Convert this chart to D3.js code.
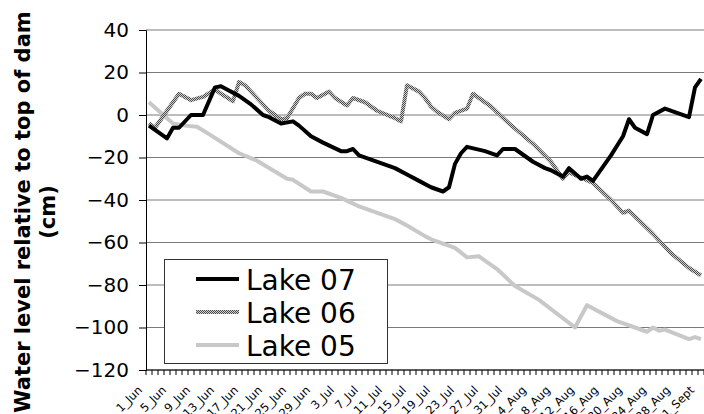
<!DOCTYPE html>
<html>
<head>
<meta charset="utf-8">
<script src="https://cdn.jsdelivr.net/npm/d3@7"></script>
<style>
body { margin: 0; background: #fff; }
svg { display: block; font-family: "DejaVu Sans", Verdana, sans-serif; }
</style>
</head>
<body>
<script>
// day offsets from 1 Jun (0 = 1_Jun ... 92 = 1_Sept)
const days = d3.range(93);
const tickLabels = ["1_Jun","5_Jun","9_Jun","13_Jun","17_Jun","21_Jun","25_Jun","29_Jun",
    "3_Jul","7_Jul","11_Jul","15_Jul","19_Jul","23_Jul","27_Jul","31_Jul",
    "4_Aug","8_Aug","12_Aug","16_Aug","20_Aug","24_Aug","28_Aug","1_Sept"];
const yTicks = [40, 20, 0, -20, -40, -60, -80, -100, -120];

// [day, level cm]
const lake07 = [[0,-5],[3,-11],[4,-6],[5,-6],[7,0],[9,0],[11,13],[12,13.5],[13,12],[15,9],[17,5],
    [19,0],[20,-1],[22,-4],[24,-3],[25,-5],[27,-10],[29,-13],[32,-17],[33,-17],[34,-16],[35,-19],
    [37,-21],[41,-25],[43,-28],[45,-31],[47,-34],[49,-36],[50,-34],[51,-23],[52,-18],[53,-15],
    [56,-17],[58,-19],[59,-16],[61,-16],[64,-22],[66,-25],[67,-26],[69,-29],[70,-25],[72,-30],
    [73,-29],[74,-31],[77,-19],[79,-10],[80,-2],[81,-6],[83,-9],[84,0],[86,3],[90,-1],[91,13],[92,17]];
const lake06 = [[0,-4],[1,-6],[3,2],[5,10],[7,7],[9,8.5],[11,12],[12,10],[14,6.5],[15,15.5],[16,14],
    [18,8],[20,2],[22,-2],[23,-1.5],[25,8],[26,10],[27,10],[28,8],[30,11],[31,8],[33,4.5],[34,8],
    [36,6],[38,2],[41,-1.5],[42,-3],[43,14],[45,11],[46,8],[47,4],[48,1.5],[50,-2],[51,1],[53,3],
    [54,10],[57,4],[60,-4],[64,-13.5],[67,-22],[69,-30],[70,-27],[74,-32],[77,-40],[79,-46],
    [80,-45],[84,-56],[87,-65],[90,-72],[92,-75.5]];
const lake05 = [[0,6],[4,-4],[6,-5],[8,-5.5],[10,-9],[15,-18],[18,-21.5],[23,-30],[24,-30.5],
    [27,-36],[29,-36],[32,-39],[35,-43],[37,-45],[41,-49],[43,-52],[46,-57],[47,-58.5],[51,-62.5],
    [53,-67],[55,-66.5],[58,-72.5],[61,-80.5],[65,-87],[71,-100],[73,-89.5],[78,-97],[83,-102],
    [84,-100],[85,-101.5],[86,-101],[90,-105.5],[91,-104.5],[92,-105.5]];

const series = [
    { name: "Lake 07", data: lake07, stroke: "#000" },
    { name: "Lake 06", data: lake06, stroke: "url(#chk)" },
    { name: "Lake 05", data: lake05, stroke: "#c8c8c8" }
];

const width = 704;
const height = 414;
const plotLeft = 146, plotTop = 30, plotBottom = 370;

const svg = d3.select("body").append("svg")
    .attr("width", width)
    .attr("height", height);

// checkered texture for Lake 06
const pat = svg.append("defs").append("pattern")
    .attr("id", "chk").attr("width", 2).attr("height", 2)
    .attr("patternUnits", "userSpaceOnUse");
pat.append("rect").attr("width", 2).attr("height", 2).attr("fill", "#d0d0d0");
pat.append("rect").attr("width", 1).attr("height", 1).attr("fill", "#4a4a4a");
pat.append("rect").attr("x", 1).attr("y", 1).attr("width", 1).attr("height", 1).attr("fill", "#4a4a4a");

const x = d3.scaleBand().domain(days).range([plotLeft, width]).padding(0);
const y = d3.scaleLinear().domain([-120, 40]).range([plotBottom, plotTop]);
const cx = d => x(d) + x.bandwidth() / 2;

// gridlines
svg.append("g").selectAll("line").data(yTicks).join("line")
    .attr("x1", plotLeft).attr("x2", width)
    .attr("y1", d => y(d)).attr("y2", d => y(d))
    .attr("stroke", "#7a7a7a").attr("stroke-width", 1);

// y axis
const yAxis = d3.axisLeft(y).tickValues(yTicks).tickSize(7).tickPadding(10);
const yG = svg.append("g").attr("transform", `translate(${plotLeft},0)`).call(yAxis);
yG.select(".domain").attr("stroke", "#000");
yG.selectAll(".tick line").attr("stroke", "#000");
yG.selectAll(".tick text").attr("font-size", 20).attr("fill", "#000")
    .attr("font-family", "DejaVu Sans, Verdana, sans-serif");

// x axis: tick at every category boundary
const xG = svg.append("g");
xG.append("line").attr("x1", plotLeft).attr("x2", width).attr("y1", plotBottom).attr("y2", plotBottom)
    .attr("stroke", "#000");
xG.selectAll(".tk").data(days.concat([93])).join("line")
    .attr("class", "tk")
    .attr("x1", d => d < 93 ? x(d) : plotLeft + 93 * x.bandwidth())
    .attr("x2", d => d < 93 ? x(d) : plotLeft + 93 * x.bandwidth())
    .attr("y1", plotBottom).attr("y2", plotBottom + 5)
    .attr("stroke", "#000");
xG.selectAll("text").data(tickLabels).join("text")
    .attr("transform", (d, i) => `translate(${cx(i * 4) - 9},${plotBottom + 18}) rotate(-45)`)
    .attr("text-anchor", "end")
    .attr("dy", "0.35em")
    .attr("font-size", 11.5)
    .text(d => d);

// lines
const line = d3.line().x(d => cx(d[0])).y(d => y(d[1]));
svg.append("g").selectAll("path").data(series.slice().reverse()).join("path")
    .attr("d", s => line(s.data))
    .attr("fill", "none")
    .attr("stroke", s => s.stroke)
    .attr("stroke-width", 4)
    .attr("stroke-linejoin", "round");

// legend
const lg = svg.append("g");
lg.append("rect").attr("x", 164.5).attr("y", 259.5).attr("width", 223).attr("height", 104)
    .attr("fill", "#fff").attr("stroke", "#333").attr("stroke-width", 1);
series.forEach((s, i) => {
    const ly = 279 + i * 33;
    lg.append("line").attr("x1", 196).attr("x2", 239).attr("y1", ly).attr("y2", ly)
        .attr("stroke", s.stroke).attr("stroke-width", 4);
    lg.append("text").attr("x", 246).attr("y", ly + 10.5)
        .attr("font-size", 28).text(s.name);
});

// y title
const yt = svg.append("g").attr("font-weight", "bold").attr("font-size", 21)
    .attr("text-anchor", "middle");
yt.append("text").attr("transform", "translate(30,212) rotate(-90)")
    .text("Water level relative to top of dam");
yt.append("text").attr("transform", "translate(55,212) rotate(-90)")
    .text("(cm)");
</script>
</body>
</html>
